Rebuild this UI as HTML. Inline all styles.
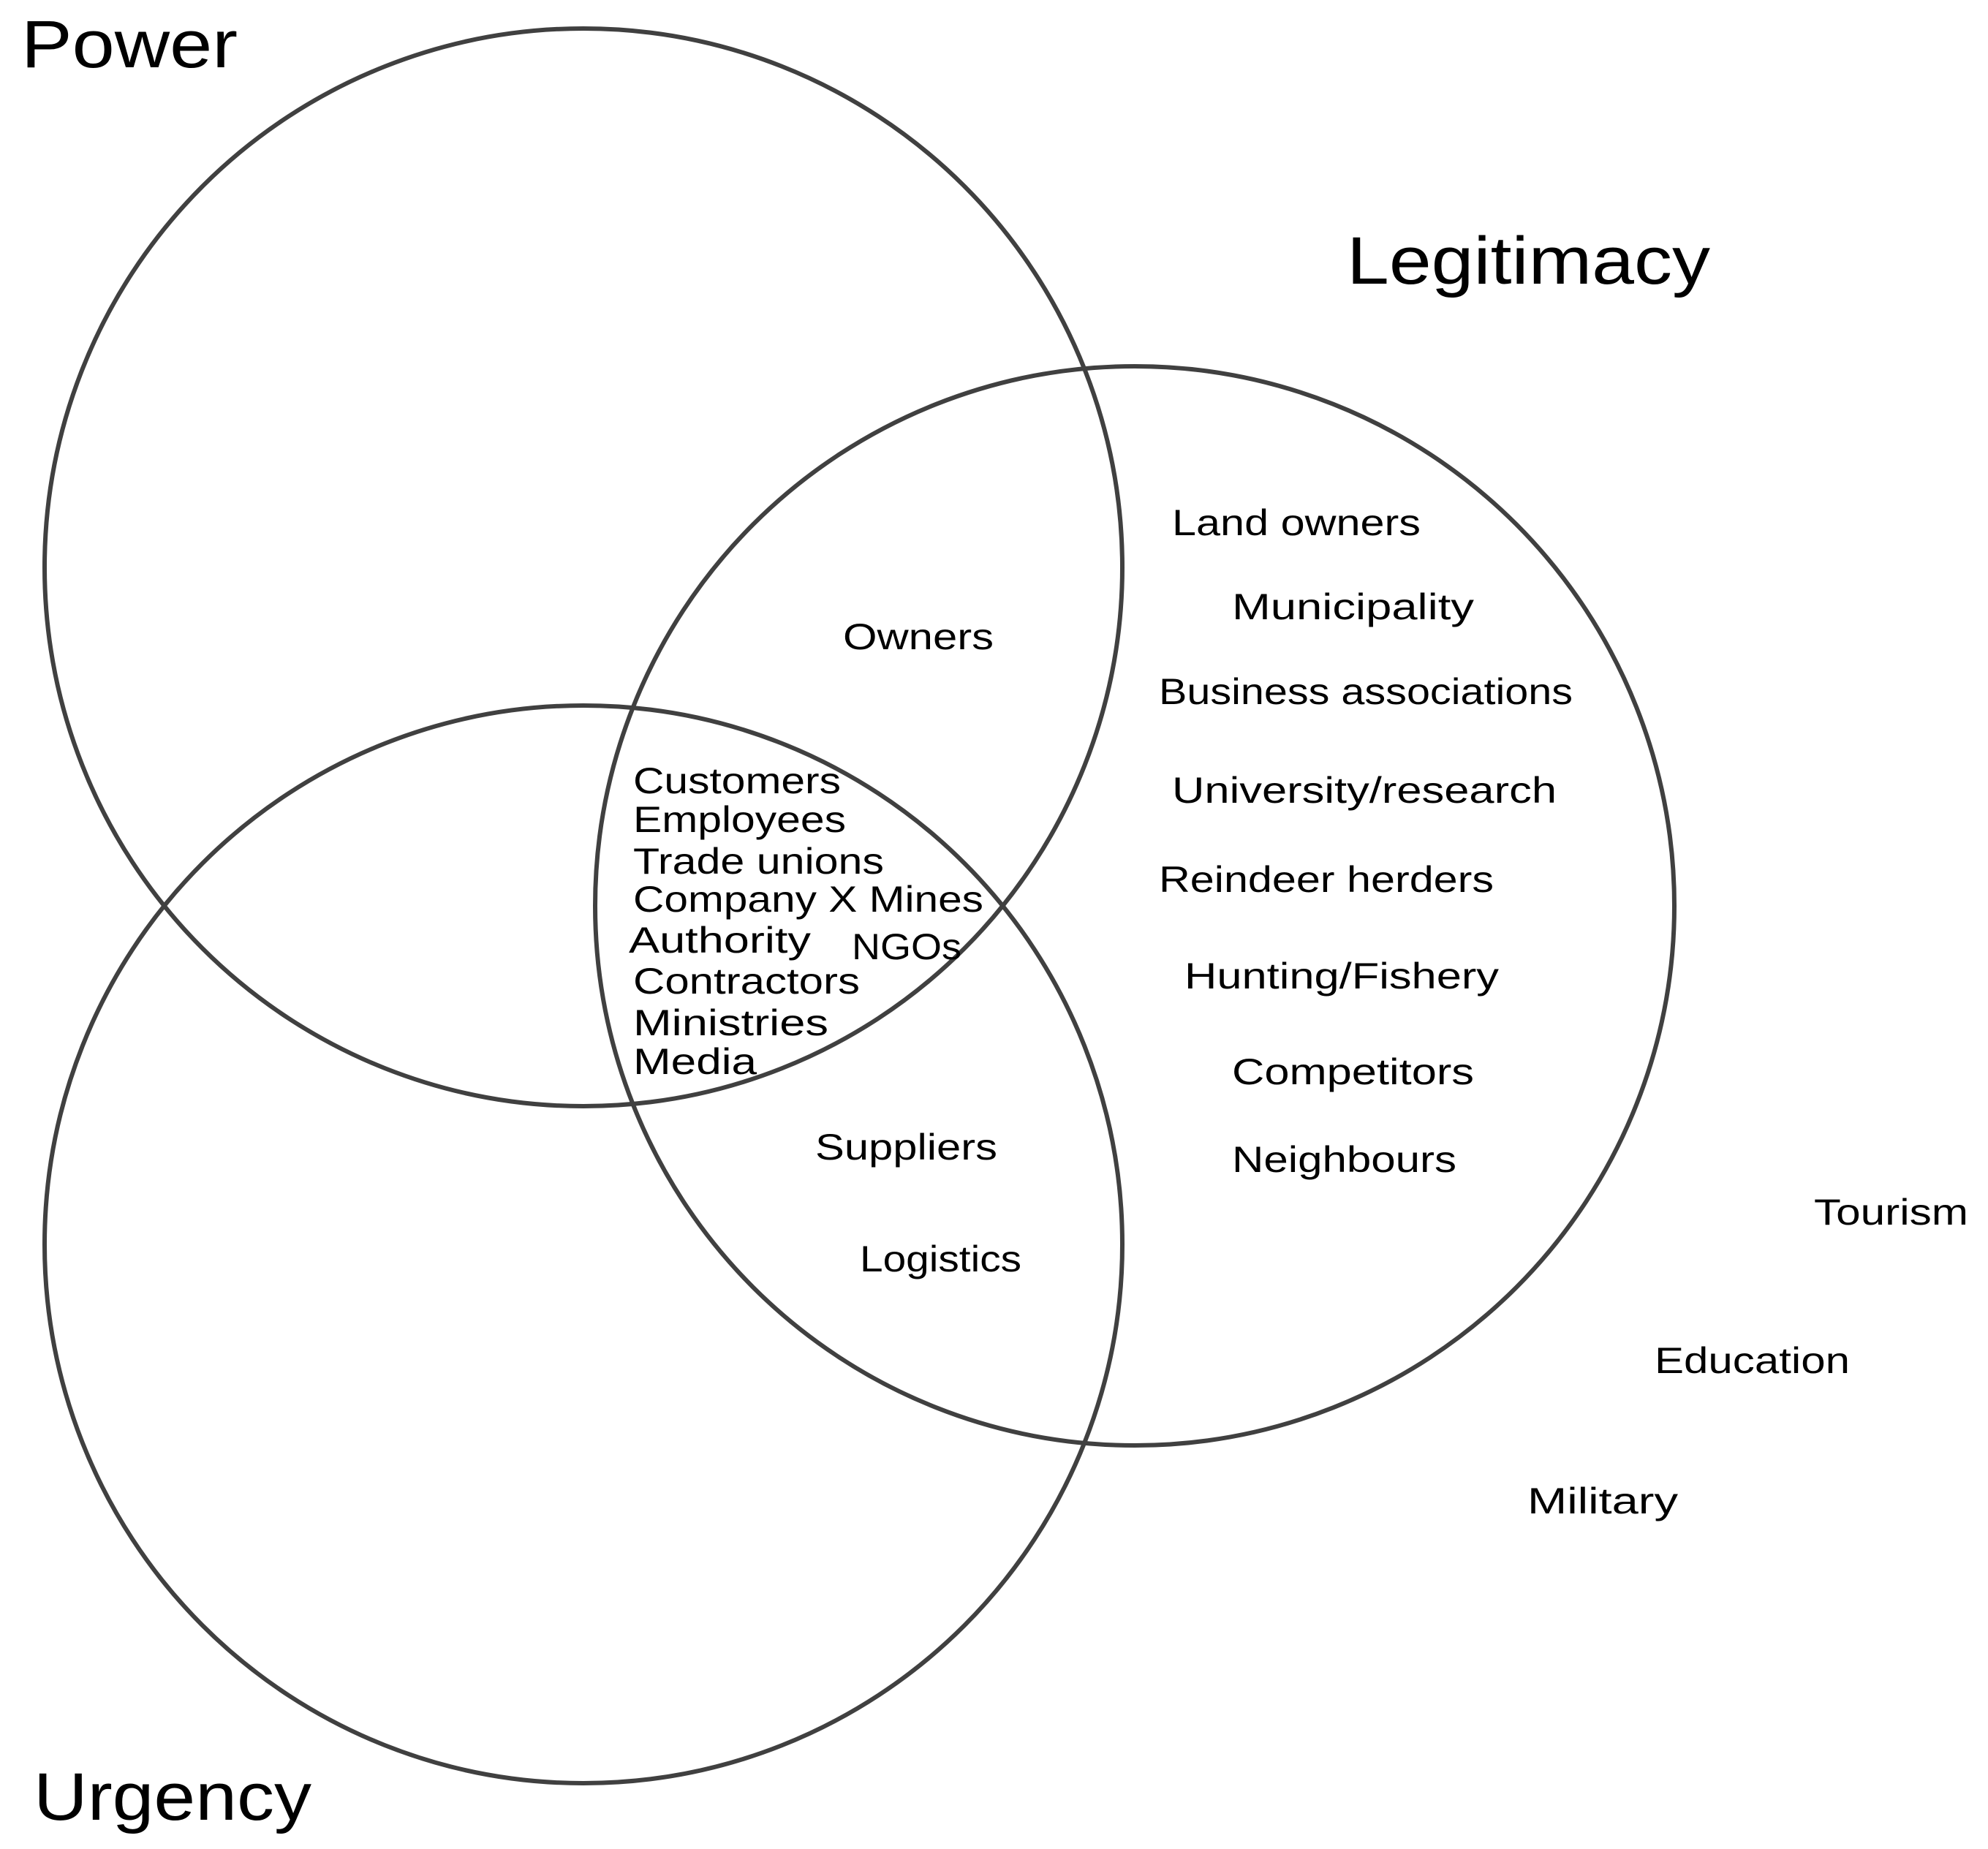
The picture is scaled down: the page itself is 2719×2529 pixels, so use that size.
<!DOCTYPE html>
<html><head><meta charset="utf-8"><style>
html,body{margin:0;padding:0;background:#fff;}
svg{display:block;}
text{font-family:"Liberation Sans",sans-serif;fill:#000;}
</style></head><body>
<svg width="2719" height="2529" viewBox="0 0 2719 2529" xmlns="http://www.w3.org/2000/svg">
<g fill="none" stroke="#404040" stroke-width="6">
<circle cx="798" cy="776" r="737"/>
<circle cx="1552" cy="1239" r="738"/>
<circle cx="798" cy="1702" r="737"/>
</g>
<g font-size="92" transform="translate(-6,-4)">
<text x="35" y="96" textLength="296" lengthAdjust="spacingAndGlyphs">Power</text>
<text x="1848" y="392" textLength="497" lengthAdjust="spacingAndGlyphs">Legitimacy</text>
<text x="52" y="2493" textLength="380" lengthAdjust="spacingAndGlyphs">Urgency</text>
</g>
<g font-size="50" transform="translate(-6,-4)">
<text x="1609" y="736" textLength="340" lengthAdjust="spacingAndGlyphs">Land owners</text>
<text x="1691" y="851" textLength="331" lengthAdjust="spacingAndGlyphs">Municipality</text>
<text x="1591" y="967" textLength="566" lengthAdjust="spacingAndGlyphs">Business associations</text>
<text x="1609" y="1102" textLength="526" lengthAdjust="spacingAndGlyphs">University/research</text>
<text x="1591" y="1224" textLength="458" lengthAdjust="spacingAndGlyphs">Reindeer herders</text>
<text x="1626" y="1356" textLength="430" lengthAdjust="spacingAndGlyphs">Hunting/Fishery</text>
<text x="1691" y="1487" textLength="331" lengthAdjust="spacingAndGlyphs">Competitors</text>
<text x="1691" y="1607" textLength="307" lengthAdjust="spacingAndGlyphs">Neighbours</text>
<text x="2487" y="1679" textLength="211" lengthAdjust="spacingAndGlyphs">Tourism</text>
<text x="2269" y="1882" textLength="267" lengthAdjust="spacingAndGlyphs">Education</text>
<text x="2095" y="2074" textLength="206" lengthAdjust="spacingAndGlyphs">Military</text>
<text x="1159" y="892" textLength="206" lengthAdjust="spacingAndGlyphs">Owners</text>
<text x="872" y="1089" textLength="284" lengthAdjust="spacingAndGlyphs">Customers</text>
<text x="872" y="1142" textLength="291" lengthAdjust="spacingAndGlyphs">Employees</text>
<text x="872" y="1199" textLength="343" lengthAdjust="spacingAndGlyphs">Trade unions</text>
<text x="872" y="1251" textLength="479" lengthAdjust="spacingAndGlyphs">Company X Mines</text>
<text x="866" y="1307" textLength="249" lengthAdjust="spacingAndGlyphs">Authority</text>
<text x="1171" y="1316" textLength="150" lengthAdjust="spacingAndGlyphs">NGOs</text>
<text x="872" y="1363" textLength="310" lengthAdjust="spacingAndGlyphs">Contractors</text>
<text x="872" y="1420" textLength="267" lengthAdjust="spacingAndGlyphs">Ministries</text>
<text x="872" y="1473" textLength="169" lengthAdjust="spacingAndGlyphs">Media</text>
<text x="1121" y="1590" textLength="249" lengthAdjust="spacingAndGlyphs">Suppliers</text>
<text x="1182" y="1743" textLength="221" lengthAdjust="spacingAndGlyphs">Logistics</text>
</g>
</svg>
</body></html>
